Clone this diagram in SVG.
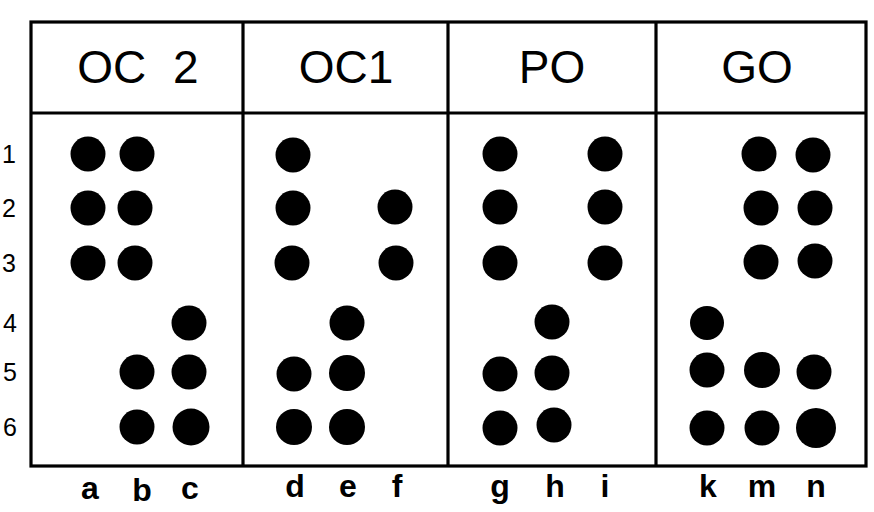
<svg xmlns="http://www.w3.org/2000/svg" width="874" height="512" viewBox="0 0 874 512">
<style>
.ln{stroke:#000;stroke-width:3.2;fill:none}
.hd{font-family:"Liberation Sans",Arial,sans-serif;font-size:46px;text-anchor:middle;fill:#000}
.rn{font-family:"Liberation Sans",Arial,sans-serif;font-size:25px;text-anchor:middle;fill:#000}
.cl{font-family:"Liberation Sans",Arial,sans-serif;font-size:32px;font-weight:bold;text-anchor:middle;fill:#000}
circle{fill:#000}
</style>
<rect width="874" height="512" fill="#fff"/>
<g id="grid">
<rect class="ln" x="31" y="22" width="835" height="444"/>
<line class="ln" x1="31" y1="113" x2="866" y2="113"/>
<line class="ln" x1="243" y1="22" x2="243" y2="466"/>
<line class="ln" x1="448" y1="22" x2="448" y2="466"/>
<line class="ln" x1="656" y1="22" x2="656" y2="466"/>
</g>
<g id="rows">
<text class="rn" x="9" y="163">1</text>
<text class="rn" x="9" y="217">2</text>
<text class="rn" x="9" y="272">3</text>
<text class="rn" x="10" y="332">4</text>
<text class="rn" x="10" y="381">5</text>
<text class="rn" x="10" y="436">6</text>
</g>
<g id="OC2">
<text class="hd" x="138" y="83" word-spacing="14">OC 2</text>
<circle cx="88" cy="154" r="17.5"/><circle cx="137" cy="154" r="17.5"/>
<circle cx="88" cy="208" r="17.5"/><circle cx="135" cy="208" r="17.5"/>
<circle cx="88" cy="263" r="17.5"/><circle cx="135" cy="263" r="17.5"/>
<circle cx="189" cy="323" r="17.5"/>
<circle cx="137" cy="372" r="17.5"/><circle cx="189" cy="372" r="17.5"/>
<circle cx="137" cy="427" r="17.5"/><circle cx="191" cy="427" r="18.5"/>
<text class="cl" x="90" y="499">a</text><text class="cl" x="142" y="501">b</text><text class="cl" x="190" y="499">c</text>
</g>
<g id="OC1">
<text class="hd" x="346" y="83">OC1</text>
<circle cx="293" cy="155" r="17.5"/>
<circle cx="293" cy="208" r="17.5"/><circle cx="395" cy="207" r="17.5"/>
<circle cx="292" cy="263" r="17.5"/><circle cx="396" cy="263" r="17.5"/>
<circle cx="347" cy="323" r="17.5"/>
<circle cx="294" cy="374" r="17.5"/><circle cx="347" cy="373" r="18"/>
<circle cx="294" cy="427" r="18"/><circle cx="347" cy="427" r="18"/>
<text class="cl" x="295" y="497">d</text><text class="cl" x="348" y="497">e</text><text class="cl" x="397" y="497">f</text>
</g>
<g id="PO">
<text class="hd" x="552" y="83">PO</text>
<circle cx="500" cy="154" r="17.5"/><circle cx="605" cy="154" r="17.5"/>
<circle cx="500" cy="207" r="17.5"/><circle cx="605" cy="207" r="17.5"/>
<circle cx="500" cy="263" r="17.5"/><circle cx="605" cy="263" r="17.5"/>
<circle cx="552" cy="322" r="17.5"/>
<circle cx="500" cy="374" r="17.5"/><circle cx="552" cy="373" r="17.5"/>
<circle cx="500" cy="428" r="17.5"/><circle cx="554" cy="425" r="17.5"/>
<text class="cl" x="500" y="497">g</text><text class="cl" x="555" y="497">h</text><text class="cl" x="605" y="497">i</text>
</g>
<g id="GO">
<text class="hd" x="757" y="83">GO</text>
<circle cx="759" cy="154" r="17.5"/><circle cx="813" cy="155" r="17.5"/>
<circle cx="761" cy="208" r="17.5"/><circle cx="815" cy="208" r="17.5"/>
<circle cx="761" cy="262" r="17.5"/><circle cx="815" cy="261" r="17.5"/>
<circle cx="707" cy="323" r="17"/>
<circle cx="707" cy="370" r="17.5"/><circle cx="762" cy="370" r="18"/><circle cx="814" cy="372" r="17.5"/>
<circle cx="707" cy="428" r="17.5"/><circle cx="762" cy="428" r="17.5"/><circle cx="816" cy="428" r="20"/>
<text class="cl" x="708" y="497">k</text><text class="cl" x="762" y="497">m</text><text class="cl" x="816" y="497">n</text>
</g>
</svg>
